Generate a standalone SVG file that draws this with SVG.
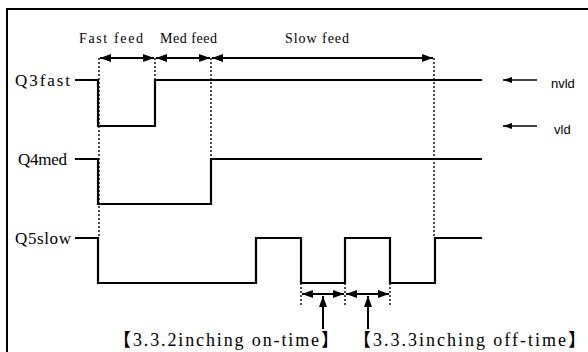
<svg xmlns="http://www.w3.org/2000/svg" width="588" height="352" viewBox="0 0 588 352">
<style>
.wave{fill:none;stroke:#000;stroke-width:2.2;stroke-linejoin:miter;stroke-linecap:square}
.dash{fill:none;stroke:#000;stroke-width:1.4;stroke-dasharray:2 2}
.arr{fill:none;stroke:#000;stroke-width:2;marker-start:url(#ah);marker-end:url(#ah)}
.up{fill:none;stroke:#000;stroke-width:2;marker-end:url(#ah)}
.thin{fill:none;stroke:#000;stroke-width:1.3;marker-end:url(#ah2)}
.m{font-family:"Liberation Serif","Noto Sans CJK SC",serif;fill:#000}
.s{font-family:"Liberation Sans",Arial,sans-serif;font-size:13px;fill:#000}
</style>
<defs>
<marker id="ah" markerUnits="userSpaceOnUse" markerWidth="12" markerHeight="8" refX="11" refY="4" orient="auto-start-reverse" viewBox="0 0 12 8">
<path d="M0,0 L11,4 L0,8 Z" fill="#000"/>
</marker>
<marker id="ah2" markerUnits="userSpaceOnUse" markerWidth="10" markerHeight="6" refX="9" refY="3" orient="auto" viewBox="0 0 10 6">
<path d="M0,0 L9,3 L0,6 Z" fill="#000"/>
</marker>
</defs>
<rect x="7" y="9" width="600" height="360" fill="none" stroke="#000" stroke-width="2"/>

<g id="labels">
<text class="m" x="79" y="43" font-size="14" textLength="64" lengthAdjust="spacing">Fast feed</text>
<text class="m" x="160" y="43" font-size="14" textLength="57" lengthAdjust="spacing">Med feed</text>
<text class="m" x="285" y="43" font-size="14" textLength="64" lengthAdjust="spacing">Slow feed</text>
</g>

<g id="q3fast">
<text class="m" x="15" y="86" font-size="17" textLength="55" lengthAdjust="spacing">Q3fast</text>
<path class="wave" d="M76,80 H98 V126 H155 V80 H481"/>
</g>
<g id="q4med">
<text class="m" x="18" y="165" font-size="17" textLength="49" lengthAdjust="spacing">Q4med</text>
<path class="wave" d="M76,159 H98 V204 H211 V159 H481"/>
</g>
<g id="q5slow">
<text class="m" x="15" y="244" font-size="17" textLength="56" lengthAdjust="spacing">Q5slow</text>
<path class="wave" d="M76,238 H98 V283 H256 V238 H301 V283 H345 V238 H390 V283 H435 V238 H481"/>
</g>

<g id="legend">
<line class="thin" x1="537" y1="80" x2="503" y2="80"/>
<text class="s" x="551" y="88">nvld</text>
<line class="thin" x1="537" y1="126" x2="503" y2="126"/>
<text class="s" x="554" y="134">vld</text>
</g>

<g id="connectors">
<line class="dash" x1="99" y1="58" x2="99" y2="238"/>
<line class="dash" x1="155" y1="58" x2="155" y2="80"/>
<line class="dash" x1="211" y1="58" x2="211" y2="159"/>
<line class="dash" x1="434" y1="58" x2="434" y2="238"/>
<line class="arr" x1="100" y1="58" x2="154" y2="58"/>
<line class="arr" x1="156" y1="58" x2="210" y2="58"/>
<line class="arr" x1="212" y1="58" x2="433" y2="58"/>
<line class="dash" x1="301" y1="283" x2="301" y2="305"/>
<line class="dash" x1="345" y1="283" x2="345" y2="305"/>
<line class="dash" x1="390" y1="283" x2="390" y2="305"/>
<line class="arr" x1="302" y1="294" x2="344" y2="294"/>
<line class="arr" x1="346" y1="294" x2="389" y2="294"/>
<line class="up" x1="323" y1="329" x2="323" y2="296"/>
<line class="up" x1="368" y1="329" x2="368" y2="296"/>
</g>

<g id="notes">
<text class="m" x="113" y="346" font-size="18" textLength="226" lengthAdjust="spacing">【3.3.2inching on-time】</text>
<text class="m" x="353" y="346" font-size="18" textLength="233" lengthAdjust="spacing">【3.3.3inching off-time】</text>
</g>
</svg>
